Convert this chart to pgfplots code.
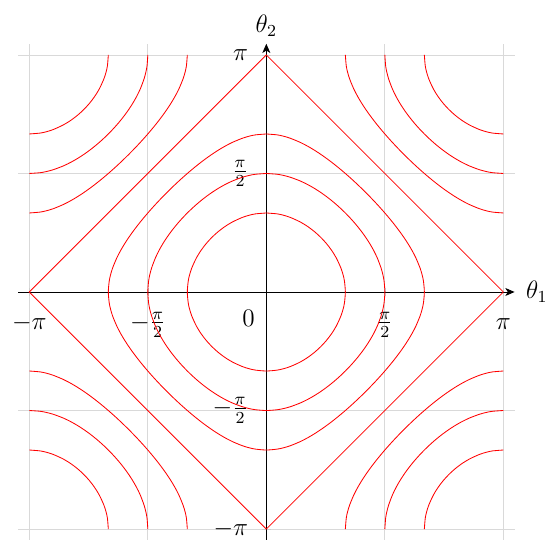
\documentclass[border=0pt]{standalone}
\usepackage{pgfplots}
\pgfplotsset{compat=1.18}
\usetikzlibrary{arrows.meta}
\pgfplotsset{lvl/.style={red, thin, smooth, mark=none}}
\begin{document}
\begin{tikzpicture}
\begin{axis}[
    scale only axis, width=8.3cm, height=8.3cm,
    axis lines=middle, axis line style={-{Stealth[length=4.4pt, width=3.8pt, inset=1.2pt]}},
    xmin=-3.29, xmax=3.29, ymin=-3.29, ymax=3.29,
    xtick={-3.1416,-1.5708,1.5708,3.1416},
    ytick={-3.1416,-1.5708,1.5708,3.1416},
    xticklabels={$-\pi$,$-\frac{\pi}{2}$,$\frac{\pi}{2}$,$\pi$},
    yticklabels={$-\pi$,$-\frac{\pi}{2}$,$\frac{\pi}{2}$,$\pi$},
    tick label style={font=\large},
    xticklabel style={anchor=base, yshift=-15.5pt},
    yticklabel style={xshift=-3pt},
    grid=major, grid style={gray!30},
    major tick style={gray!40},
    xlabel={\large $\theta_1$}, ylabel={\large $\theta_2$},
    xlabel style={anchor=west, xshift=2pt}, ylabel style={anchor=south},
]
% diamond, level 0
\addplot[red, thin, sharp plot] coordinates {(3.1416,0) (0,3.1416) (-3.1416,0) (0,-3.1416) (3.1416,0)};
% level 1.5
\addplot[lvl] coordinates {(0,1.0472) (0.1415,1.0357) (0.2241,1.0181) (0.3176,0.9884) (0.4510,0.9273) (0.5548,0.8632) (0.6435,0.7954) (0.7227,0.7227) (0.7954,0.6435) (0.8632,0.5548) (0.9273,0.4510) (0.9884,0.3176) (1.0181,0.2241) (1.0357,0.1415) (1.0472,0)
 (1.0357,-0.1415) (1.0181,-0.2241) (0.9884,-0.3176) (0.9273,-0.4510) (0.8632,-0.5548) (0.7954,-0.6435) (0.7227,-0.7227) (0.6435,-0.7954) (0.5548,-0.8632) (0.4510,-0.9273) (0.3176,-0.9884) (0.2241,-1.0181) (0.1415,-1.0357) (0,-1.0472)
 (-0.1415,-1.0357) (-0.2241,-1.0181) (-0.3176,-0.9884) (-0.4510,-0.9273) (-0.5548,-0.8632) (-0.6435,-0.7954) (-0.7227,-0.7227) (-0.7954,-0.6435) (-0.8632,-0.5548) (-0.9273,-0.4510) (-0.9884,-0.3176) (-1.0181,-0.2241) (-1.0357,-0.1415) (-1.0472,0)
 (-1.0357,0.1415) (-1.0181,0.2241) (-0.9884,0.3176) (-0.9273,0.4510) (-0.8632,0.5548) (-0.7954,0.6435) (-0.7227,0.7227) (-0.6435,0.7954) (-0.5548,0.8632) (-0.4510,0.9273) (-0.3176,0.9884) (-0.2241,1.0181) (-0.1415,1.0357) (0,1.0472)};
% level 1
\addplot[lvl] coordinates {(0,1.5708) (0.1415,1.5608) (0.2241,1.5458) (0.3176,1.5208) (0.4510,1.4706) (0.5548,1.4202) (0.6435,1.3694) (0.7227,1.3181) (0.7954,1.2661) (0.8632,1.2132) (0.9273,1.1593) (0.9884,1.1040) (1.0472,1.0472) (1.1040,0.9884) (1.1593,0.9273) (1.2132,0.8632) (1.2661,0.7954) (1.3181,0.7227) (1.3694,0.6435) (1.4202,0.5548) (1.4706,0.4510) (1.5208,0.3176) (1.5458,0.2241) (1.5608,0.1415) (1.5708,0)
 (1.5608,-0.1415) (1.5458,-0.2241) (1.5208,-0.3176) (1.4706,-0.4510) (1.4202,-0.5548) (1.3694,-0.6435) (1.3181,-0.7227) (1.2661,-0.7954) (1.2132,-0.8632) (1.1593,-0.9273) (1.1040,-0.9884) (1.0472,-1.0472) (0.9884,-1.1040) (0.9273,-1.1593) (0.8632,-1.2132) (0.7954,-1.2661) (0.7227,-1.3181) (0.6435,-1.3694) (0.5548,-1.4202) (0.4510,-1.4706) (0.3176,-1.5208) (0.2241,-1.5458) (0.1415,-1.5608) (0,-1.5708)
 (-0.1415,-1.5608) (-0.2241,-1.5458) (-0.3176,-1.5208) (-0.4510,-1.4706) (-0.5548,-1.4202) (-0.6435,-1.3694) (-0.7227,-1.3181) (-0.7954,-1.2661) (-0.8632,-1.2132) (-0.9273,-1.1593) (-0.9884,-1.1040) (-1.0472,-1.0472) (-1.1040,-0.9884) (-1.1593,-0.9273) (-1.2132,-0.8632) (-1.2661,-0.7954) (-1.3181,-0.7227) (-1.3694,-0.6435) (-1.4202,-0.5548) (-1.4706,-0.4510) (-1.5208,-0.3176) (-1.5458,-0.2241) (-1.5608,-0.1415) (-1.5708,0)
 (-1.5608,0.1415) (-1.5458,0.2241) (-1.5208,0.3176) (-1.4706,0.4510) (-1.4202,0.5548) (-1.3694,0.6435) (-1.3181,0.7227) (-1.2661,0.7954) (-1.2132,0.8632) (-1.1593,0.9273) (-1.1040,0.9884) (-1.0472,1.0472) (-0.9884,1.1040) (-0.9273,1.1593) (-0.8632,1.2132) (-0.7954,1.2661) (-0.7227,1.3181) (-0.6435,1.3694) (-0.5548,1.4202) (-0.4510,1.4706) (-0.3176,1.5208) (-0.2241,1.5458) (-0.1415,1.5608) (0,1.5708)};
% level 0.5
\addplot[lvl] coordinates {(0,2.0944) (0.1415,2.0828) (0.2241,2.0658) (0.3176,2.0376) (0.4510,1.9823) (0.5548,1.9284) (0.6435,1.8755) (0.7227,1.8235) (0.7954,1.7722) (0.8632,1.7214) (0.9273,1.6710) (0.9884,1.6208) (1.0472,1.5708) (1.1040,1.5208) (1.1593,1.4706) (1.2132,1.4202) (1.2661,1.3694) (1.3181,1.3181) (1.3694,1.2661) (1.4202,1.2132) (1.4706,1.1593) (1.5208,1.1040) (1.5708,1.0472) (1.6208,0.9884) (1.6710,0.9273) (1.7214,0.8632) (1.7722,0.7954) (1.8235,0.7227) (1.8755,0.6435) (1.9284,0.5548) (1.9823,0.4510) (2.0376,0.3176) (2.0658,0.2241) (2.0828,0.1415) (2.0944,0)
 (2.0828,-0.1415) (2.0658,-0.2241) (2.0376,-0.3176) (1.9823,-0.4510) (1.9284,-0.5548) (1.8755,-0.6435) (1.8235,-0.7227) (1.7722,-0.7954) (1.7214,-0.8632) (1.6710,-0.9273) (1.6208,-0.9884) (1.5708,-1.0472) (1.5208,-1.1040) (1.4706,-1.1593) (1.4202,-1.2132) (1.3694,-1.2661) (1.3181,-1.3181) (1.2661,-1.3694) (1.2132,-1.4202) (1.1593,-1.4706) (1.1040,-1.5208) (1.0472,-1.5708) (0.9884,-1.6208) (0.9273,-1.6710) (0.8632,-1.7214) (0.7954,-1.7722) (0.7227,-1.8235) (0.6435,-1.8755) (0.5548,-1.9284) (0.4510,-1.9823) (0.3176,-2.0376) (0.2241,-2.0658) (0.1415,-2.0828) (0,-2.0944)
 (-0.1415,-2.0828) (-0.2241,-2.0658) (-0.3176,-2.0376) (-0.4510,-1.9823) (-0.5548,-1.9284) (-0.6435,-1.8755) (-0.7227,-1.8235) (-0.7954,-1.7722) (-0.8632,-1.7214) (-0.9273,-1.6710) (-0.9884,-1.6208) (-1.0472,-1.5708) (-1.1040,-1.5208) (-1.1593,-1.4706) (-1.2132,-1.4202) (-1.2661,-1.3694) (-1.3181,-1.3181) (-1.3694,-1.2661) (-1.4202,-1.2132) (-1.4706,-1.1593) (-1.5208,-1.1040) (-1.5708,-1.0472) (-1.6208,-0.9884) (-1.6710,-0.9273) (-1.7214,-0.8632) (-1.7722,-0.7954) (-1.8235,-0.7227) (-1.8755,-0.6435) (-1.9284,-0.5548) (-1.9823,-0.4510) (-2.0376,-0.3176) (-2.0658,-0.2241) (-2.0828,-0.1415) (-2.0944,0)
 (-2.0828,0.1415) (-2.0658,0.2241) (-2.0376,0.3176) (-1.9823,0.4510) (-1.9284,0.5548) (-1.8755,0.6435) (-1.8235,0.7227) (-1.7722,0.7954) (-1.7214,0.8632) (-1.6710,0.9273) (-1.6208,0.9884) (-1.5708,1.0472) (-1.5208,1.1040) (-1.4706,1.1593) (-1.4202,1.2132) (-1.3694,1.2661) (-1.3181,1.3181) (-1.2661,1.3694) (-1.2132,1.4202) (-1.1593,1.4706) (-1.1040,1.5208) (-1.0472,1.5708) (-0.9884,1.6208) (-0.9273,1.6710) (-0.8632,1.7214) (-0.7954,1.7722) (-0.7227,1.8235) (-0.6435,1.8755) (-0.5548,1.9284) (-0.4510,1.9823) (-0.3176,2.0376) (-0.2241,2.0658) (-0.1415,2.0828) (0,2.0944)};
% level -0.5, four corners
\addplot[lvl] coordinates {(3.1416,1.0472) (3.0001,1.0588) (2.9175,1.0758) (2.8240,1.1040) (2.6906,1.1593) (2.5868,1.2132) (2.4981,1.2661) (2.4189,1.3181) (2.3462,1.3694) (2.2784,1.4202) (2.2143,1.4706) (2.1532,1.5208) (2.0944,1.5708) (2.0376,1.6208) (1.9823,1.6710) (1.9284,1.7214) (1.8755,1.7722) (1.8235,1.8235) (1.7722,1.8755) (1.7214,1.9284) (1.6710,1.9823) (1.6208,2.0376) (1.5708,2.0944) (1.5208,2.1532) (1.4706,2.2143) (1.4202,2.2784) (1.3694,2.3462) (1.3181,2.4189) (1.2661,2.4981) (1.2132,2.5868) (1.1593,2.6906) (1.1040,2.8240) (1.0758,2.9175) (1.0588,3.0001) (1.0472,3.1416)};
\addplot[lvl] coordinates {(-3.1416,1.0472) (-3.0001,1.0588) (-2.9175,1.0758) (-2.8240,1.1040) (-2.6906,1.1593) (-2.5868,1.2132) (-2.4981,1.2661) (-2.4189,1.3181) (-2.3462,1.3694) (-2.2784,1.4202) (-2.2143,1.4706) (-2.1532,1.5208) (-2.0944,1.5708) (-2.0376,1.6208) (-1.9823,1.6710) (-1.9284,1.7214) (-1.8755,1.7722) (-1.8235,1.8235) (-1.7722,1.8755) (-1.7214,1.9284) (-1.6710,1.9823) (-1.6208,2.0376) (-1.5708,2.0944) (-1.5208,2.1532) (-1.4706,2.2143) (-1.4202,2.2784) (-1.3694,2.3462) (-1.3181,2.4189) (-1.2661,2.4981) (-1.2132,2.5868) (-1.1593,2.6906) (-1.1040,2.8240) (-1.0758,2.9175) (-1.0588,3.0001) (-1.0472,3.1416)};
\addplot[lvl] coordinates {(3.1416,-1.0472) (3.0001,-1.0588) (2.9175,-1.0758) (2.8240,-1.1040) (2.6906,-1.1593) (2.5868,-1.2132) (2.4981,-1.2661) (2.4189,-1.3181) (2.3462,-1.3694) (2.2784,-1.4202) (2.2143,-1.4706) (2.1532,-1.5208) (2.0944,-1.5708) (2.0376,-1.6208) (1.9823,-1.6710) (1.9284,-1.7214) (1.8755,-1.7722) (1.8235,-1.8235) (1.7722,-1.8755) (1.7214,-1.9284) (1.6710,-1.9823) (1.6208,-2.0376) (1.5708,-2.0944) (1.5208,-2.1532) (1.4706,-2.2143) (1.4202,-2.2784) (1.3694,-2.3462) (1.3181,-2.4189) (1.2661,-2.4981) (1.2132,-2.5868) (1.1593,-2.6906) (1.1040,-2.8240) (1.0758,-2.9175) (1.0588,-3.0001) (1.0472,-3.1416)};
\addplot[lvl] coordinates {(-3.1416,-1.0472) (-3.0001,-1.0588) (-2.9175,-1.0758) (-2.8240,-1.1040) (-2.6906,-1.1593) (-2.5868,-1.2132) (-2.4981,-1.2661) (-2.4189,-1.3181) (-2.3462,-1.3694) (-2.2784,-1.4202) (-2.2143,-1.4706) (-2.1532,-1.5208) (-2.0944,-1.5708) (-2.0376,-1.6208) (-1.9823,-1.6710) (-1.9284,-1.7214) (-1.8755,-1.7722) (-1.8235,-1.8235) (-1.7722,-1.8755) (-1.7214,-1.9284) (-1.6710,-1.9823) (-1.6208,-2.0376) (-1.5708,-2.0944) (-1.5208,-2.1532) (-1.4706,-2.2143) (-1.4202,-2.2784) (-1.3694,-2.3462) (-1.3181,-2.4189) (-1.2661,-2.4981) (-1.2132,-2.5868) (-1.1593,-2.6906) (-1.1040,-2.8240) (-1.0758,-2.9175) (-1.0588,-3.0001) (-1.0472,-3.1416)};
% level -1, four corners
\addplot[lvl] coordinates {(3.1416,1.5708) (3.0001,1.5808) (2.9175,1.5958) (2.8240,1.6208) (2.6906,1.6710) (2.5868,1.7214) (2.4981,1.7722) (2.4189,1.8235) (2.3462,1.8755) (2.2784,1.9284) (2.2143,1.9823) (2.1532,2.0376) (2.0944,2.0944) (2.0376,2.1532) (1.9823,2.2143) (1.9284,2.2784) (1.8755,2.3462) (1.8235,2.4189) (1.7722,2.4981) (1.7214,2.5868) (1.6710,2.6906) (1.6208,2.8240) (1.5958,2.9175) (1.5808,3.0001) (1.5708,3.1416)};
\addplot[lvl] coordinates {(-3.1416,1.5708) (-3.0001,1.5808) (-2.9175,1.5958) (-2.8240,1.6208) (-2.6906,1.6710) (-2.5868,1.7214) (-2.4981,1.7722) (-2.4189,1.8235) (-2.3462,1.8755) (-2.2784,1.9284) (-2.2143,1.9823) (-2.1532,2.0376) (-2.0944,2.0944) (-2.0376,2.1532) (-1.9823,2.2143) (-1.9284,2.2784) (-1.8755,2.3462) (-1.8235,2.4189) (-1.7722,2.4981) (-1.7214,2.5868) (-1.6710,2.6906) (-1.6208,2.8240) (-1.5958,2.9175) (-1.5808,3.0001) (-1.5708,3.1416)};
\addplot[lvl] coordinates {(3.1416,-1.5708) (3.0001,-1.5808) (2.9175,-1.5958) (2.8240,-1.6208) (2.6906,-1.6710) (2.5868,-1.7214) (2.4981,-1.7722) (2.4189,-1.8235) (2.3462,-1.8755) (2.2784,-1.9284) (2.2143,-1.9823) (2.1532,-2.0376) (2.0944,-2.0944) (2.0376,-2.1532) (1.9823,-2.2143) (1.9284,-2.2784) (1.8755,-2.3462) (1.8235,-2.4189) (1.7722,-2.4981) (1.7214,-2.5868) (1.6710,-2.6906) (1.6208,-2.8240) (1.5958,-2.9175) (1.5808,-3.0001) (1.5708,-3.1416)};
\addplot[lvl] coordinates {(-3.1416,-1.5708) (-3.0001,-1.5808) (-2.9175,-1.5958) (-2.8240,-1.6208) (-2.6906,-1.6710) (-2.5868,-1.7214) (-2.4981,-1.7722) (-2.4189,-1.8235) (-2.3462,-1.8755) (-2.2784,-1.9284) (-2.2143,-1.9823) (-2.1532,-2.0376) (-2.0944,-2.0944) (-2.0376,-2.1532) (-1.9823,-2.2143) (-1.9284,-2.2784) (-1.8755,-2.3462) (-1.8235,-2.4189) (-1.7722,-2.4981) (-1.7214,-2.5868) (-1.6710,-2.6906) (-1.6208,-2.8240) (-1.5958,-2.9175) (-1.5808,-3.0001) (-1.5708,-3.1416)};
% level -1.5, four corners
\addplot[lvl] coordinates {(3.1416,2.0944) (3.0001,2.1059) (2.9175,2.1235) (2.8240,2.1532) (2.6906,2.2143) (2.5868,2.2784) (2.4981,2.3462) (2.4189,2.4189) (2.3462,2.4981) (2.2784,2.5868) (2.2143,2.6906) (2.1532,2.8240) (2.1235,2.9175) (2.1059,3.0001) (2.0944,3.1416)};
\addplot[lvl] coordinates {(-3.1416,2.0944) (-3.0001,2.1059) (-2.9175,2.1235) (-2.8240,2.1532) (-2.6906,2.2143) (-2.5868,2.2784) (-2.4981,2.3462) (-2.4189,2.4189) (-2.3462,2.4981) (-2.2784,2.5868) (-2.2143,2.6906) (-2.1532,2.8240) (-2.1235,2.9175) (-2.1059,3.0001) (-2.0944,3.1416)};
\addplot[lvl] coordinates {(3.1416,-2.0944) (3.0001,-2.1059) (2.9175,-2.1235) (2.8240,-2.1532) (2.6906,-2.2143) (2.5868,-2.2784) (2.4981,-2.3462) (2.4189,-2.4189) (2.3462,-2.4981) (2.2784,-2.5868) (2.2143,-2.6906) (2.1532,-2.8240) (2.1235,-2.9175) (2.1059,-3.0001) (2.0944,-3.1416)};
\addplot[lvl] coordinates {(-3.1416,-2.0944) (-3.0001,-2.1059) (-2.9175,-2.1235) (-2.8240,-2.1532) (-2.6906,-2.2143) (-2.5868,-2.2784) (-2.4981,-2.3462) (-2.4189,-2.4189) (-2.3462,-2.4981) (-2.2784,-2.5868) (-2.2143,-2.6906) (-2.1532,-2.8240) (-2.1235,-2.9175) (-2.1059,-3.0001) (-2.0944,-3.1416)};
\node at (axis cs:0,0) [xshift=-8.5pt, yshift=-12.4pt] {\large $0$};
\coordinate (bbA) at (axis cs:-3.53,-3.28);
\coordinate (bbB) at (axis cs:3.72,3.87);
\end{axis}
\pgfresetboundingbox
\path[use as bounding box] (bbA) rectangle (bbB);
\end{tikzpicture}
\end{document}
